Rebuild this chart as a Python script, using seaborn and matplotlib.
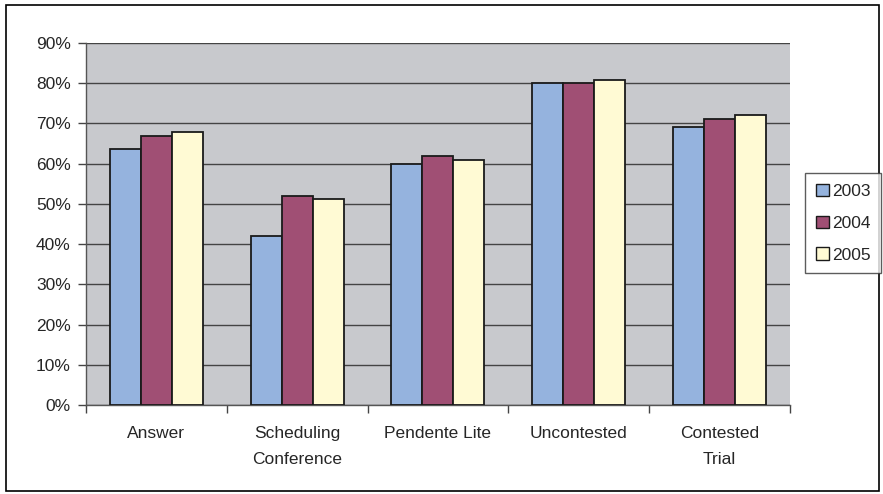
import pandas as pd
import numpy as np
import matplotlib
matplotlib.use('Agg')
import matplotlib.pyplot as plt
import seaborn as sns
from matplotlib.patches import Rectangle

# data (percent)
categories = ['Answer', 'Scheduling\nConference', 'Pendente Lite', 'Uncontested', 'Contested\nTrial']
years = ['2003', '2004', '2005']
v2003 = [63.7, 42.0, 60.0, 80.0, 69.0]
v2004 = [67.0, 52.0, 62.0, 80.0, 71.0]
v2005 = [67.8, 51.2, 60.8, 80.8, 72.0]
colors = ['#95B3DE', '#A04F74', '#FFFAD4']

df = pd.DataFrame({
    'category': categories * 3,
    'year': [y for y in years for _ in categories],
    'value': v2003 + v2004 + v2005,
})

sns.set_style('white')
plt.rcParams['font.family'] = ['Liberation Sans', 'DejaVu Sans']

fig = plt.figure(figsize=(8.83, 4.94), dpi=100)
ax = fig.add_axes([0.0974, 0.180, 0.797, 0.733])
ax.set_facecolor('#C8C9CD')

sns.barplot(data=df, x='category', y='value', hue='year', palette=colors,
            saturation=1, width=0.66, edgecolor='#1a1a1a', linewidth=1.3,
            ax=ax, legend=False, zorder=3)

ax.set_ylim(0, 90)
ax.set_yticks(np.arange(0, 91, 10))
ax.set_yticklabels([f'{t}%' for t in range(0, 91, 10)], fontsize=12.5)
ax.yaxis.grid(True, color='#444444', linewidth=1.0, zorder=0)
ax.set_axisbelow(True)
ax.set_xlim(-0.5, len(categories) - 0.5)
ax.set_xlabel('')
ax.set_ylabel('')

# category labels centred, ticks at group boundaries
ax.set_xticks(np.arange(len(categories)))
ax.set_xticklabels(categories, fontsize=12.5, linespacing=1.95, va='top')
ax.tick_params(axis='x', which='major', length=0, pad=15)
ax.set_xticks(np.arange(-0.5, len(categories)), minor=True)
ax.tick_params(axis='x', which='minor', bottom=True, length=6, color='#444444', width=1)
ax.tick_params(axis='y', left=True, length=6, color='#444444', width=1, pad=5)

for s in ['top', 'right']:
    ax.spines[s].set_visible(False)
ax.spines['left'].set_color('#555555')
ax.spines['bottom'].set_color('#555555')
ax.spines['left'].set_linewidth(1)
ax.spines['bottom'].set_linewidth(1)

handles = [Rectangle((0, 0), 1, 1, facecolor=c, edgecolor='#1a1a1a', linewidth=1) for c in colors]
fig.legend(handles, years, loc='center left', bbox_to_anchor=(0.912, 0.548),
           frameon=True, fancybox=False, edgecolor='#333333', fontsize=12.5,
           handlelength=0.75, handleheight=0.75, handletextpad=0.2,
           labelspacing=0.95, borderpad=0.6, borderaxespad=0)

# outer chart border
fig.patches.append(Rectangle((0.007, 0.006), 0.988, 0.984, transform=fig.transFigure,
                             fill=False, edgecolor='black', linewidth=1.2))

fig.savefig('out.png', dpi=100)
